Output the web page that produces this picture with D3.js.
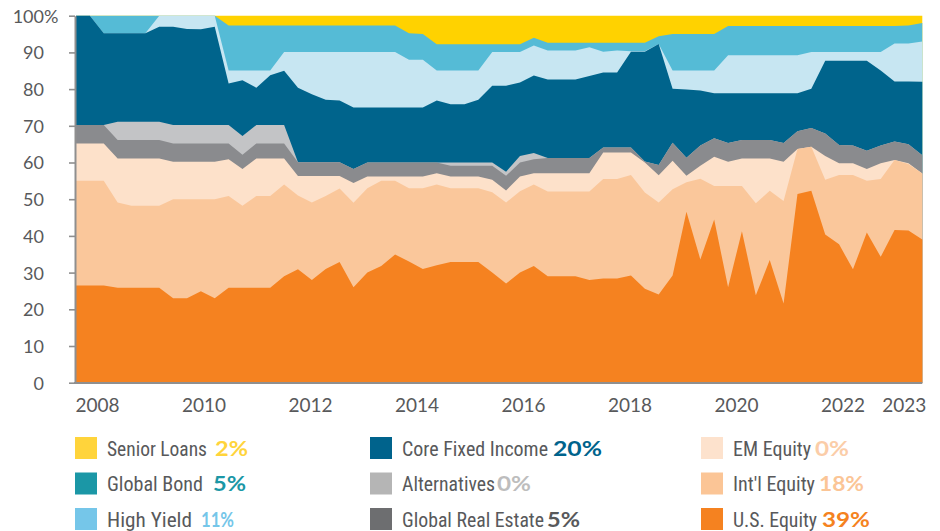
<!DOCTYPE html>
<html>
<head>
<meta charset="utf-8">
<script src="https://cdn.jsdelivr.net/npm/d3@7"></script>
<style>
  html, body { margin: 0; padding: 0; background: #fff; }
  svg { display: block; }
</style>
</head>
<body>
<svg id="chart" width="940" height="531"></svg>
<script>
// ---------- DATA ----------
// Rebalance dates (decimal years), evenly spaced as in the original chart
const dates = [2007.606, 2007.867, 2008.127, 2008.388, 2008.648, 2008.909, 2009.169, 2009.430, 2009.690, 2009.951,
  2010.211, 2010.472, 2010.732, 2010.993, 2011.253, 2011.514, 2011.774, 2012.035, 2012.295, 2012.556,
  2012.817, 2013.077, 2013.338, 2013.598, 2013.859, 2014.119, 2014.380, 2014.640, 2014.901, 2015.161,
  2015.422, 2015.682, 2015.943, 2016.203, 2016.464, 2016.725, 2016.985, 2017.246, 2017.506, 2017.767,
  2018.027, 2018.288, 2018.548, 2018.809, 2019.069, 2019.330, 2019.590, 2019.851, 2020.111, 2020.372,
  2020.633, 2020.893, 2021.154, 2021.414, 2021.675, 2021.935, 2022.196, 2022.456, 2022.717, 2022.977,
  2023.238, 2023.498];

const usEquity = [26.5, 26.5, 26.5, 25.9, 25.9, 25.9, 25.9, 23, 23, 24.9,
  23, 25.9, 25.9, 25.9, 25.9, 29, 30.9, 28, 31, 32.9,
  26, 30, 31.8, 34.9, 33, 31, 32, 32.9, 32.9, 32.9,
  30, 27, 30, 31.8, 29, 29, 29, 28, 28.4, 28.4,
  29.2, 25.6, 24, 29.2, 46.6, 33.6, 44.5, 26, 41.3, 23.8,
  33.4, 21.6, 51.4, 52.3, 40.4, 37.7, 30.9, 40.9, 34.3, 41.6,
  41.5, 39];
const intlEquity = [28.5, 28.5, 28.5, 23.2, 22.3, 22.3, 22.3, 27, 27, 25.1,
  27, 25, 22.3, 25, 25, 25, 20.1, 21.1, 19.9, 20,
  23, 23, 23.2, 20.1, 20, 22, 22, 20.1, 20.1, 20.1,
  21.9, 22.1, 22.2, 22.2, 23.1, 23.1, 23.1, 24.1, 27.1, 27.1,
  27.4, 26.2, 25.1, 23.5, 8, 22, 9.1, 27.6, 12.3, 25.1,
  18.9, 27.9, 12.3, 12, 14.9, 18.9, 25.7, 14.1, 21.2, 19.1,
  18.1, 18];
const emEquity = [10.2, 10.2, 10.2, 12, 12.9, 12.9, 12.9, 10.2, 10.2, 10.2,
  10.2, 10, 10, 10.2, 10.2, 7.1, 5.3, 7.2, 5.4, 3.4,
  5.4, 3.2, 1.2, 1.2, 3.2, 3.2, 3.1, 3.2, 3.2, 3.2,
  3.4, 3.3, 4, 3.1, 5, 5, 5, 5, 7.2, 7.2,
  6.1, 8.2, 7.4, 7.8, 1.8, 3.5, 8, 6.6, 7.5, 12.2,
  8.8, 10.7, 0, 0, 6.5, 3.2, 3.2, 3.2, 4.3, 0,
  0.2, 0];
const globalRealEstate = [5, 5, 5, 5, 5, 5, 5, 5, 5, 5,
  5, 4.3, 3.9, 4.1, 4.1, 4.1, 3.8, 3.8, 3.8, 3.8,
  3.8, 3.8, 3.8, 3.8, 3.8, 3.8, 2.9, 2.9, 2.9, 2.9,
  3.8, 4, 3.8, 3.8, 4.1, 4.1, 4.1, 4.1, 1.4, 1.4,
  1.4, 0.3, 2.8, 4.9, 4.9, 5.5, 5, 5.1, 5, 5,
  5, 5.1, 4.8, 5.1, 6.1, 5, 4.8, 5, 4.8, 5,
  5.2, 5];
const alternatives = [0, 0, 0, 5, 5, 5, 5, 5, 5, 5,
  5, 5, 5.1, 5, 5, 5, 0, 0, 0, 0,
  0, 0, 0, 0, 0, 0, 0, 0.9, 0.9, 0.9,
  0.9, 1.1, 1.8, 1.7, 0, 0, 0, 0, 0, 0,
  0, 0, 0, 0, 0, 0, 0, 0, 0, 0,
  0, 0, 0, 0, 0, 0, 0, 0, 0, 0,
  0, 0];
const coreFixedIncome = [29.8, 29.8, 25, 24.1, 24.1, 24.1, 25.9, 26.8, 26.2, 26.1,
  26.8, 11.3, 15.2, 10.2, 13.6, 14.8, 20.3, 18.5, 17, 16.8,
  16.8, 15, 15, 15, 15, 15, 16.9, 15.9, 15.9, 17.1,
  20.9, 23.4, 20, 21.1, 21.4, 21.4, 21.4, 22.4, 20.4, 20.4,
  26.1, 29.9, 33, 14.7, 18.6, 15, 12.3, 13.6, 12.8, 12.8,
  12.8, 13.6, 10.4, 10.7, 19.8, 22.9, 23.1, 24.5, 20.5, 16.4,
  17.1, 20];
const highYield = [0, 0, 0, 0, 0, 0, 3, 3, 3.6, 3.7,
  3, 3.6, 2.7, 4.7, 1.3, 5.1, 9.7, 11.5, 13, 13.2,
  15.1, 15.1, 15.1, 15.1, 13, 13, 8.2, 9.2, 9.2, 8,
  9.2, 9.2, 8.3, 8.2, 7.9, 7.9, 7.9, 7.8, 5.7, 6,
  0.1, 0.1, 0, 5, 5.2, 5.5, 6.2, 10.3, 10.3, 10.3,
  10.3, 10.3, 10.3, 10, 2.4, 2.4, 2.4, 2.4, 5, 10.3,
  10.3, 11];
const globalBond = [0, 0, 4.8, 4.8, 4.8, 4.8, 0, 0, 0, 0,
  0, 12.2, 12.2, 12.2, 12.2, 7.2, 7.2, 7.2, 7.2, 7.2,
  7.2, 7.2, 7.2, 7.2, 7.2, 7, 7.1, 7.1, 7.1, 7.1,
  2.1, 2.1, 2.1, 2.1, 2.1, 2.1, 2.1, 1.2, 2.4, 2.1,
  2.3, 2.3, 2.1, 9.9, 9.9, 9.9, 9.9, 8, 8, 8,
  8, 8, 8, 7.1, 7.1, 7.1, 7.1, 7.1, 7.1, 4.8,
  4.9, 5];
const seniorLoans = [0, 0, 0, 0, 0, 0, 0, 0, 0, 0,
  0, 2.7, 2.7, 2.7, 2.7, 2.7, 2.7, 2.7, 2.7, 2.7,
  2.7, 2.7, 2.7, 2.7, 4.8, 5, 7.8, 7.8, 7.8, 7.8,
  7.8, 7.8, 7.8, 6, 7.4, 7.4, 7.4, 7.4, 7.4, 7.4,
  7.4, 7.4, 5.6, 5, 5, 5, 5, 2.8, 2.8, 2.8,
  2.8, 2.8, 2.8, 2.8, 2.8, 2.8, 2.8, 2.8, 2.8, 2.8,
  2.7, 2];

// stacking order bottom -> top
const seriesNames = ["U.S. Equity", "Int'l Equity", "EM Equity", "Global Real Estate", "Alternatives",
  "Core Fixed Income", "High Yield", "Global Bond", "Senior Loans"];
const seriesValues = [usEquity, intlEquity, emEquity, globalRealEstate, alternatives,
  coreFixedIncome, highYield, globalBond, seniorLoans];

// axis ticks
const yTicks = [0, 10, 20, 30, 40, 50, 60, 70, 80, 90, 100];
const xTickLabels = ["2008", "2010", "2012", "2014", "2016", "2018", "2020", "2022", "2023"];
const xTickValues = [2008, 2010, 2012, 2014, 2016, 2018, 2020, 2022, 2023.15];

// legend (column by column)
const legendNames = ["Senior Loans", "Global Bond", "High Yield",
  "Core Fixed Income", "Alternatives", "Global Real Estate",
  "EM Equity", "Int'l Equity", "U.S. Equity"];
const legendPct = ["2%", "5%", "11%", "20%", "0%", "5%", "0%", "18%", "39%"];

// ---------- STYLES ----------
const areaColors = {
  "U.S. Equity": "#F58220",
  "Int'l Equity": "#FAC79B",
  "EM Equity": "#FDE1CA",
  "Global Real Estate": "#8A8B8E",
  "Alternatives": "#C3C4C6",
  "Core Fixed Income": "#00648C",
  "High Yield": "#C7E6F2",
  "Global Bond": "#55BBD6",
  "Senior Loans": "#FFD200"
};
const legendColors = {
  "Senior Loans": "#FFD43B",
  "Global Bond": "#1B97A6",
  "High Yield": "#75C6E9",
  "Core Fixed Income": "#00638C",
  "Alternatives": "#B5B5B5",
  "Global Real Estate": "#6D6E70",
  "EM Equity": "#FDE2CD",
  "Int'l Equity": "#FBC596",
  "U.S. Equity": "#F58220"
};
const pctColors = {
  "Senior Loans": "#FFD43B",
  "Global Bond": "#1B97A6",
  "High Yield": "#75C6E9",
  "Core Fixed Income": "#00638C",
  "Alternatives": "#BDBDBD",
  "Global Real Estate": "#58595B",
  "EM Equity": "#FBCDA8",
  "Int'l Equity": "#FBC596",
  "U.S. Equity": "#F58220"
};
// legend layout (px)
const legendColX = [75, 370, 701];
const legendRowY = [437, 472.5, 508];
const legendLabelW = [100, 96, 85, 146, 93, 142, 78, 82, 84];
const legendPctX = [215, 213, 201, 553, 497, 547, 815, 819, 822];
const legendPctW = [33, 33, 33, 49, 34, 33, 34, 45, 48];

const axisColor = "#8F8F8F";
const textColor = "#58595B";

// ---------- CHART ----------
const svg = d3.select("#chart");

const x = d3.scaleLinear().domain([dates[0], dates[dates.length - 1]]).range([76, 922.3]);
const y = d3.scaleLinear().domain([0, 100]).range([382.7, 15.7]);

const rows = dates.map((d, i) => {
  const r = { date: d };
  seriesNames.forEach((n, k) => { r[n] = seriesValues[k][i]; });
  return r;
});
const stacked = d3.stack().keys(seriesNames)(rows);

// draw cumulative areas from the top layer down (avoids seams between layers)
const area = d3.area()
  .x(d => x(d.data.date))
  .y0(y(0))
  .y1(d => y(d[1]));

svg.append("g").selectAll("path")
  .data(stacked.slice().reverse())
  .join("path")
  .attr("d", area)
  .attr("fill", d => areaColors[d.key]);

// Y axis
const yAxis = svg.append("g")
  .attr("transform", "translate(75,0)")
  .call(d3.axisLeft(y).tickValues(yTicks).tickSize(6).tickSizeOuter(0).tickPadding(25).tickFormat(d3.format("d")));
yAxis.select(".domain").attr("stroke", axisColor).attr("stroke-width", 2);
yAxis.selectAll(".tick line").attr("stroke", axisColor).attr("stroke-width", 1.6);
yAxis.selectAll(".tick text")
  .attr("fill", textColor)
  .attr("font-family", "Lato, 'Open Sans', sans-serif")
  .attr("font-size", 18)
  .attr("x", -31)
  .attr("dy", "0.36em");
yAxis.selectAll(".tick").filter(d => d === 100)
  .append("text")
  .attr("x", -31)
  .attr("dy", "0.36em")
  .attr("text-anchor", "start")
  .attr("fill", textColor)
  .attr("font-family", "Lato, 'Open Sans', sans-serif")
  .attr("font-size", 18)
  .text("%");

// X axis
const xAxis = svg.append("g")
  .attr("transform", "translate(0,383)")
  .call(d3.axisBottom(x).tickValues(xTickValues).tickSize(0).tickPadding(16)
    .tickFormat((d, i) => xTickLabels[i]));
xAxis.select(".domain").remove();
xAxis.selectAll(".tick text")
  .attr("fill", textColor)
  .attr("font-family", "Lato, 'Open Sans', sans-serif")
  .attr("font-size", 19);
svg.append("line")
  .attr("x1", 74).attr("x2", x.range()[1])
  .attr("y1", 383).attr("y2", 383)
  .attr("stroke", axisColor).attr("stroke-width", 2);

// Legend
const legend = svg.append("g");
legendNames.forEach((name, i) => {
  const col = Math.floor(i / 3), row = i % 3;
  const sx = legendColX[col], sy = legendRowY[row];
  legend.append("rect")
    .attr("x", sx).attr("y", sy)
    .attr("width", 22).attr("height", 22)
    .attr("fill", legendColors[name]);
  legend.append("text")
    .attr("x", sx + 32).attr("y", sy + 18.5)
    .attr("fill", textColor)
    .attr("font-family", "'Liberation Sans Narrow', 'Roboto Condensed', Roboto, sans-serif")
    .attr("font-size", 19.5)
    .attr("textLength", legendLabelW[i])
    .attr("lengthAdjust", "spacingAndGlyphs")
    .text(name);
  legend.append("text")
    .attr("x", legendPctX[i]).attr("y", sy + 18.5)
    .attr("fill", pctColors[name])
    .attr("font-family", "Lato, 'Open Sans', sans-serif")
    .attr("font-weight", 700)
    .attr("font-size", 20.5)
    .attr("textLength", legendPctW[i])
    .attr("lengthAdjust", "spacingAndGlyphs")
    .text(legendPct[i]);
});
</script>
</body>
</html>
